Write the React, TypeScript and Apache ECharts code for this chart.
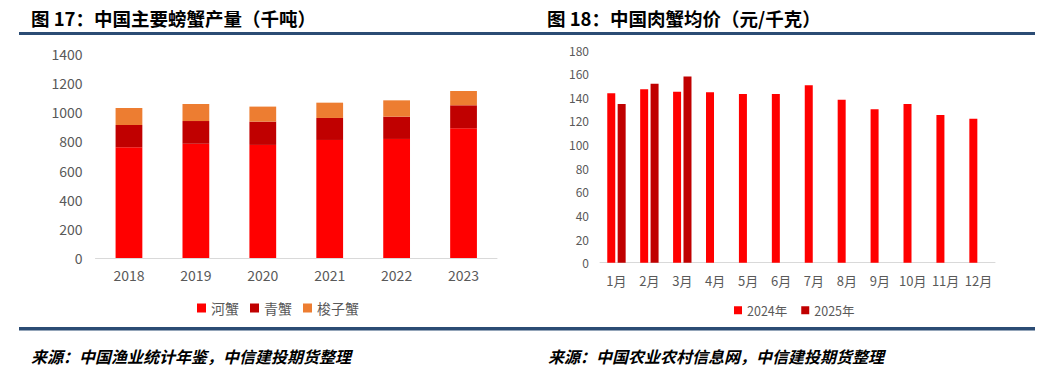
import React, { useEffect, useRef } from "react";
import * as echarts from "echarts";

const years = ["2018", "2019", "2020", "2021", "2022", "2023"];
const riverCrab = [760, 784, 776, 810, 817, 890];
const mudCrab = [153, 156, 160, 151, 153, 158];
const swimmingCrab = [117, 117, 103, 105, 112, 98];

const months = ["1月", "2月", "3月", "4月", "5月", "6月", "7月", "8月", "9月", "10月", "11月", "12月"];
const price2024 = [143.4, 146.7, 144.7, 144.2, 142.8, 142.8, 150.1, 138, 129.8, 134.3, 125, 121.9];
const price2025: (number | null)[] = [134.3, 151.5, 157.5, null, null, null, null, null, null, null, null, null];

const title1 = "图 17：中国主要螃蟹产量（千吨）";
const title2 = "图 18：中国肉蟹均价（元/千克）";
const source1 = "来源：中国渔业统计年鉴，中信建投期货整理";
const source2 = "来源：中国农业农村信息网，中信建投期货整理";

const FONT = "'Noto Sans CJK SC', 'Noto Sans', sans-serif";
const GRAY = "#595959";
const BLUE = "#2B4C74";

export default function App() {
  const ref = useRef<HTMLDivElement>(null);
  useEffect(() => {
    if (!ref.current) return;
    const chart = echarts.init(ref.current, null, { renderer: "svg" });
    const axisLabel = (size: number) => ({ color: GRAY, fontSize: size, fontFamily: FONT });
    chart.setOption({
      animation: false,
      backgroundColor: "#ffffff",
      textStyle: { fontFamily: FONT },
      grid: [
        { left: 95.5, top: 54, width: 401.5, height: 204 },
        { left: 600, top: 50, width: 395, height: 212.7 },
      ],
      xAxis: [
        {
          type: "category", gridIndex: 0, data: years,
          axisLine: { lineStyle: { color: "#D9D9D9" } }, axisTick: { show: false },
          axisLabel: { ...axisLabel(14), margin: 10 },
        },
        {
          type: "category", gridIndex: 1, data: months,
          axisLine: { lineStyle: { color: "#D9D9D9" } }, axisTick: { show: false },
          axisLabel: { ...axisLabel(13), margin: 11, interval: 0 },
        },
      ],
      yAxis: [
        {
          type: "value", gridIndex: 0, min: 0, max: 1400, interval: 200,
          splitLine: { show: false }, axisLine: { show: false }, axisTick: { show: false },
          axisLabel: { ...axisLabel(14), margin: 13, formatter: (v: number) => String(v) },
        },
        {
          type: "value", gridIndex: 1, min: 0, max: 180, interval: 20,
          splitLine: { show: false }, axisLine: { show: false }, axisTick: { show: false },
          axisLabel: { ...axisLabel(12), margin: 11, formatter: (v: number) => String(v) },
        },
      ],
      legend: [
        {
          data: ["河蟹", "青蟹", "梭子蟹"], left: 192, top: 296,
          itemWidth: 9, itemHeight: 9, itemGap: 11, icon: "rect",
          textStyle: { color: GRAY, fontSize: 14, fontFamily: FONT },
        },
        {
          data: ["2024年", "2025年"], left: 729, top: 299,
          itemWidth: 8, itemHeight: 8, itemGap: 14, icon: "rect",
          textStyle: { color: GRAY, fontSize: 12.5, fontFamily: FONT },
        },
      ],
      series: [
        { name: "河蟹", type: "bar", stack: "a", xAxisIndex: 0, yAxisIndex: 0, data: riverCrab, barWidth: "40%", itemStyle: { color: "#FF0000" } },
        { name: "青蟹", type: "bar", stack: "a", xAxisIndex: 0, yAxisIndex: 0, data: mudCrab, barWidth: "40%", itemStyle: { color: "#C00000" } },
        { name: "梭子蟹", type: "bar", stack: "a", xAxisIndex: 0, yAxisIndex: 0, data: swimmingCrab, barWidth: "40%", itemStyle: { color: "#ED7D31" } },
        { name: "2024年", type: "bar", xAxisIndex: 1, yAxisIndex: 1, data: price2024, barWidth: 8, barGap: "30%", itemStyle: { color: "#FF0000" } },
        { name: "2025年", type: "bar", xAxisIndex: 1, yAxisIndex: 1, data: price2025, barWidth: 8, barGap: "30%", itemStyle: { color: "#C00000" } },
      ],
      graphic: [
        { type: "text", left: 31, top: 9, style: { text: title1, font: `bold 18.5px ${FONT}`, fill: "#000" } },
        { type: "text", left: 547, top: 9, style: { text: title2, font: `bold 18.5px ${FONT}`, fill: "#000" } },
        { type: "rect", shape: { x: 19, y: 32, width: 1016, height: 3 }, style: { fill: BLUE } },
        { type: "rect", shape: { x: 19, y: 327, width: 1016, height: 3.5 }, style: { fill: BLUE } },
        { type: "text", left: 31, top: 348, style: { text: source1, font: `italic bold 16px ${FONT}`, fill: "#000" } },
        { type: "text", left: 548, top: 348, style: { text: source2, font: `italic bold 16px ${FONT}`, fill: "#000" } },
      ],
    });
    return () => chart.dispose();
  }, []);
  return <div ref={ref} style={{ position: "absolute", left: 0, top: 0, width: 1056, height: 379 }} />;
}
